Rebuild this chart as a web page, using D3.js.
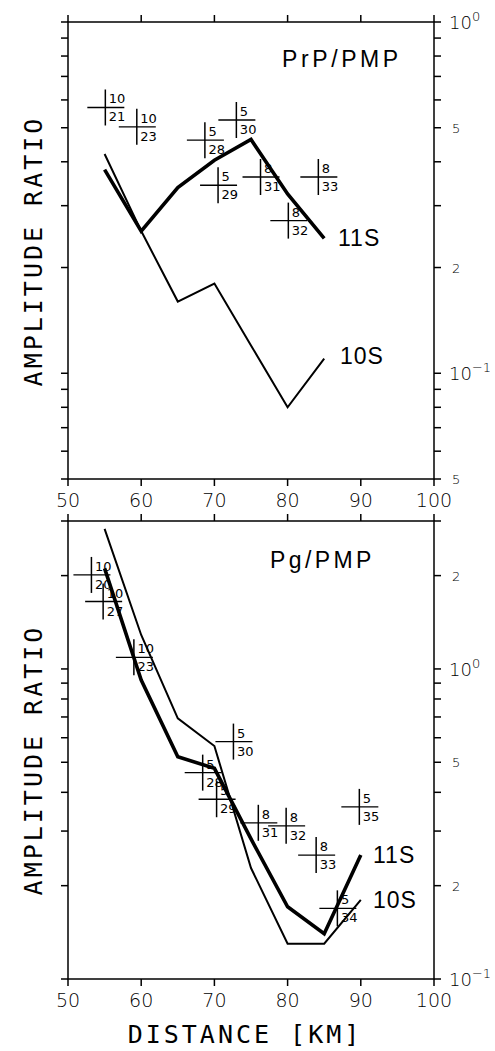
<!DOCTYPE html>
<html>
<head>
<meta charset="utf-8">
<script src="https://cdn.jsdelivr.net/npm/d3@7"></script>
<style>
  html, body { margin: 0; padding: 0; background: #fff; }
  svg { display: block; }
</style>
</head>
<body>
<svg id="chart" width="495" height="1051"></svg>
<script>
// ---------------- DATA ----------------
const xTicks = [50, 60, 70, 80, 90, 100];

// Top panel: PrP/PMP
const topDist = [55, 60, 65, 70, 75, 80, 85];
const top11S = [0.380, 0.254, 0.338, 0.404, 0.463, 0.324, 0.242];
const top10S = [0.421, 0.254, 0.160, 0.180, 0.120, 0.080, 0.110];
const topCrossDist = [55.1, 59.4, 68.7, 73.0, 70.5, 76.3, 84.2, 80.1];
const topCrossVal  = [0.571, 0.503, 0.461, 0.526, 0.343, 0.362, 0.362, 0.272];
const topCrossN    = ["10", "10", "5", "5", "5", "8", "8", "8"];
const topCrossId   = ["21", "23", "28", "30", "29", "31", "33", "32"];
const topYLabelVals = [1, 0.5, 0.2, 0.1, 0.05];
const topYLabelBase = ["10", "5", "2", "10", "5"];
const topYLabelSup  = ["0", "", "", "\u22121", ""];

// Bottom panel: Pg/PMP
const botDist = [55, 60, 65, 70, 75, 80, 85, 90];
const bot11S = [2.11, 0.921, 0.521, 0.478, 0.283, 0.171, 0.140, 0.251];
const bot10S = [2.83, 1.287, 0.693, 0.564, 0.228, 0.130, 0.130, 0.180];
const botCrossDist = [53.2, 54.8, 59.0, 72.6, 68.4, 70.3, 76.0, 79.8, 83.9, 89.8, 86.8];
const botCrossVal  = [2.01, 1.65, 1.09, 0.583, 0.463, 0.380, 0.319, 0.312, 0.251, 0.359, 0.169];
const botCrossN    = ["10", "10", "10", "5", "5", "5", "8", "8", "8", "5", "5"];
const botCrossId   = ["20", "27", "23", "30", "28", "29", "31", "32", "33", "35", "34"];
const botYLabelVals = [2, 1, 0.5, 0.2, 0.1];
const botYLabelBase = ["2", "10", "5", "2", "10"];
const botYLabelSup  = ["", "0", "", "", "\u22121"];

// ---------------- DRAW ----------------
const svg = d3.select("#chart");
const X0 = 68, X1 = 434;
const TICK = 7;
const AXW = 1.5;

function panel(cfg) {
  const g = svg.append("g");
  const x = d3.scaleLinear().domain([50, 100]).range([X0, X1]);
  const y = d3.scaleLog().domain(cfg.yDomain).range([cfg.bottom, cfg.top]);

  // frame
  g.append("rect")
    .attr("x", X0).attr("y", cfg.top)
    .attr("width", X1 - X0).attr("height", cfg.bottom - cfg.top)
    .attr("fill", "none").attr("stroke", "#000").attr("stroke-width", AXW);

  // x ticks top and bottom (outward)
  g.selectAll(".xtb").data(xTicks).enter().append("line")
    .attr("x1", d => x(d)).attr("x2", d => x(d))
    .attr("y1", cfg.bottom).attr("y2", cfg.bottom + TICK)
    .attr("stroke", "#000").attr("stroke-width", AXW);
  g.selectAll(".xtt").data(xTicks).enter().append("line")
    .attr("x1", d => x(d)).attr("x2", d => x(d))
    .attr("y1", cfg.top).attr("y2", cfg.top - TICK)
    .attr("stroke", "#000").attr("stroke-width", AXW);

  // y ticks left and right (outward)
  const yt = y.ticks();
  g.selectAll(".ytl").data(yt).enter().append("line")
    .attr("x1", X0 - TICK).attr("x2", X0)
    .attr("y1", d => y(d)).attr("y2", d => y(d))
    .attr("stroke", "#000").attr("stroke-width", AXW);
  g.selectAll(".ytr").data(yt).enter().append("line")
    .attr("x1", X1).attr("x2", X1 + TICK)
    .attr("y1", d => y(d)).attr("y2", d => y(d))
    .attr("stroke", "#000").attr("stroke-width", AXW);

  // x tick labels
  g.selectAll(".xl").data(xTicks).enter().append("text")
    .attr("x", d => x(d)).attr("y", cfg.bottom + 28)
    .attr("text-anchor", "middle")
    .attr("font-family", "DejaVu Sans").attr("font-weight", 300)
    .attr("font-size", 19).attr("fill", "#000")
    .text(d => d);

  // y tick labels on right
  cfg.yLabVals.forEach((v, i) => {
    const big = cfg.yLabSup[i] !== "";
    const t = g.append("text")
      .attr("x", big ? X1 + 15 : X1 + 18)
      .attr("y", y(v) + (big ? 7 : 5))
      .attr("font-family", "DejaVu Sans").attr("font-weight", 300)
      .attr("font-size", big ? 18 : 13).attr("fill", "#000");
    t.append("tspan").text(cfg.yLabBase[i]);
    if (big) {
      t.append("tspan").attr("dy", -8)
        .attr("font-size", 13).text(cfg.yLabSup[i]);
    }
  });

  // lines
  const line = d3.line().x(d => x(d[0])).y(d => y(d[1])).curve(d3.curveLinear);
  const d11 = cfg.dist.map((d, i) => [d, cfg.s11[i]]);
  const d10 = cfg.dist.map((d, i) => [d, cfg.s10[i]]);
  g.append("path").attr("d", line(d10)).attr("fill", "none")
    .attr("stroke", "#000").attr("stroke-width", 2).attr("stroke-linejoin", "miter");
  g.append("path").attr("d", line(d11)).attr("fill", "none")
    .attr("stroke", "#000").attr("stroke-width", 3.6).attr("stroke-linejoin", "miter");

  // crosses with fraction labels
  cfg.cd.forEach((d, i) => {
    const cx = x(d), cy = y(cfg.cv[i]);
    g.append("line").attr("x1", cx - 18).attr("x2", cx + 19)
      .attr("y1", cy).attr("y2", cy).attr("stroke", "#000").attr("stroke-width", 1.3);
    g.append("line").attr("x1", cx).attr("x2", cx)
      .attr("y1", cy - 18).attr("y2", cy + 18).attr("stroke", "#000").attr("stroke-width", 1.5);
    g.append("text").attr("x", cx + 3.5).attr("y", cy - 4)
      .attr("font-family", "DejaVu Sans").attr("font-size", 13)
      .attr("fill", "#000").text(cfg.cn[i]);
    g.append("text").attr("x", cx + 3.5).attr("y", cy + 14)
      .attr("font-family", "DejaVu Sans").attr("font-size", 13)
      .attr("fill", "#000").text(cfg.cid[i]);
  });

  // series labels
  g.append("text").attr("x", cfg.lab11[0]).attr("y", cfg.lab11[1])
    .attr("font-family", "Liberation Sans").attr("font-size", 23)
    .attr("letter-spacing", 1).attr("fill", "#000").text("11S");
  g.append("text").attr("x", cfg.lab10[0]).attr("y", cfg.lab10[1])
    .attr("font-family", "Liberation Sans").attr("font-size", 23)
    .attr("letter-spacing", 1).attr("fill", "#000").text("10S");

  // panel title
  g.append("text").attr("x", cfg.title[0]).attr("y", cfg.title[1])
    .attr("font-family", "Liberation Sans").attr("font-size", 23)
    .attr("letter-spacing", cfg.titleLS).attr("fill", "#000").text(cfg.titleText);

  // y axis title
  g.append("text")
    .attr("transform", `translate(42,${cfg.yTitleC}) rotate(-90)`)
    .attr("text-anchor", "middle")
    .attr("font-family", "DejaVu Sans Mono").attr("font-size", 25)
    .attr("letter-spacing", 3).attr("fill", "#000")
    .text("AMPLITUDE RATIO");
}

panel({
  top: 22, bottom: 479, yDomain: [0.05, 1],
  dist: topDist, s11: top11S, s10: top10S,
  cd: topCrossDist, cv: topCrossVal, cn: topCrossN, cid: topCrossId,
  yLabVals: topYLabelVals, yLabBase: topYLabelBase, yLabSup: topYLabelSup,
  lab11: [338, 246], lab10: [340, 364],
  title: [282, 67], titleText: "PrP/PMP", titleLS: 3.6,
  yTitleC: 251
});

panel({
  top: 521, bottom: 979, yDomain: [0.1, 3],
  dist: botDist, s11: bot11S, s10: bot10S,
  cd: botCrossDist, cv: botCrossVal, cn: botCrossN, cid: botCrossId,
  yLabVals: botYLabelVals, yLabBase: botYLabelBase, yLabSup: botYLabelSup,
  lab11: [373, 863], lab10: [373, 908],
  title: [270, 568], titleText: "Pg/PMP", titleLS: 3.4,
  yTitleC: 760
});

// x axis title
svg.append("text").attr("x", 245).attr("y", 1043)
  .attr("text-anchor", "middle")
  .attr("font-family", "DejaVu Sans Mono").attr("font-size", 25)
  .attr("letter-spacing", 3).attr("fill", "#000")
  .text("DISTANCE [KM]");
</script>
</body>
</html>
